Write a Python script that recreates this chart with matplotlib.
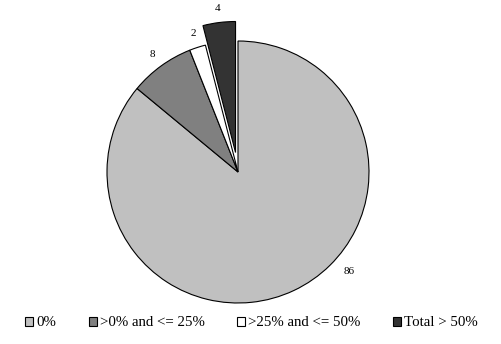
import numpy as np
import matplotlib
matplotlib.use("Agg")
import matplotlib.pyplot as plt

plt.rcParams["font.family"] = ["Liberation Serif", "DejaVu Serif"]

CATEGORIES = ["0%", ">0% and <= 25%", ">25% and <= 50%", "Total > 50%"]
VALUES = [86, 8, 2, 4]
COLORS = ["#c0c0c0", "#808080", "#ffffff", "#333333"]
EXPLODE = [0, 0, 0, 0.15]


def main():
    fig = plt.figure(figsize=(5.02, 3.44), dpi=100)
    # pie centre at (238, 172) px, radius ~131 px
    lim = 1.3
    size = 2 * lim * 131
    ax = fig.add_axes([(238 - size / 2) / 502, (172 - size / 2) / 344,
                       size / 502, size / 344])

    wedges, texts = ax.pie(
        VALUES,
        colors=COLORS,
        explode=EXPLODE,
        startangle=90,
        counterclock=False,
        labels=[str(v) for v in VALUES],
        labeldistance=1.11,
        wedgeprops=dict(edgecolor="black", linewidth=0.8),
        textprops=dict(fontsize=8, color="black"),
    )
    ax.set_xlim(-lim, lim)
    ax.set_ylim(-lim, lim)
    ax.set_aspect("equal")
    ax.axis("off")

    for t in texts:
        t.set_ha("center")
        t.set_va("center")
    # the big slice's label is moved up like in the source chart
    ang = np.deg2rad(-42)
    texts[0].set_position((1.14 * np.cos(ang), 1.14 * np.sin(ang)))

    fig.legend(
        wedges,
        CATEGORIES,
        loc="center",
        bbox_to_anchor=(251.5 / 502, 21 / 344),
        ncol=4,
        frameon=False,
        fontsize=10.7,
        handlelength=0.55,
        handleheight=0.55,
        handletextpad=0.22,
        columnspacing=2.15,
        borderpad=0,
    )

    fig.savefig("out.png", dpi=100)


if __name__ == "__main__":
    main()
